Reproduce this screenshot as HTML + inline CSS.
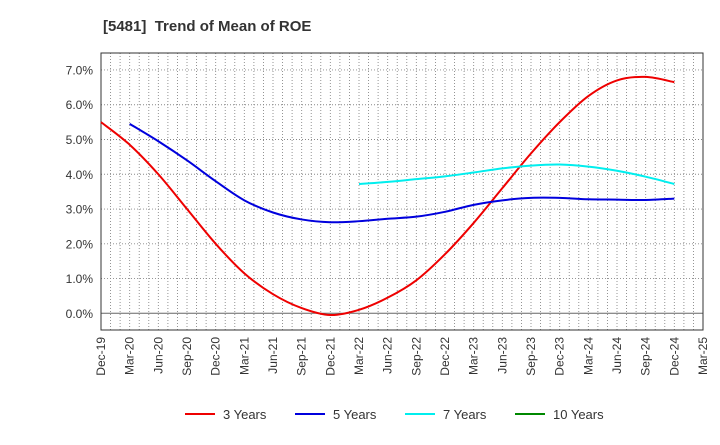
<!DOCTYPE html>
<html><head><meta charset="utf-8"><style>
body{margin:0;background:#fff;font-family:"Liberation Sans",sans-serif;}
svg text{font-family:"Liberation Sans",sans-serif;}
</style></head><body>
<svg id="c" width="720" height="440" xmlns="http://www.w3.org/2000/svg">
<text x="103" y="31" font-size="15" font-weight="bold" fill="#333" xml:space="preserve">[5481]  Trend of Mean of ROE</text>
<g id="grid"></g><g id="axes"></g><g id="series"></g><g id="legend"></g>
</svg>
<script>
const xLabels=["Dec-19","Mar-20","Jun-20","Sep-20","Dec-20","Mar-21","Jun-21","Sep-21","Dec-21","Mar-22","Jun-22","Sep-22","Dec-22","Mar-23","Jun-23","Sep-23","Dec-23","Mar-24","Jun-24","Sep-24","Dec-24","Mar-25"];
const yTicks=[0,1,2,3,4,5,6,7];
const s3=[5.5,4.85,4.0,3.0,2.0,1.15,0.55,0.15,-0.05,0.1,0.45,0.95,1.7,2.6,3.6,4.6,5.5,6.25,6.7,6.8,6.65];
const s5=[null,5.45,4.95,4.4,3.8,3.25,2.9,2.7,2.62,2.65,2.72,2.78,2.92,3.12,3.25,3.32,3.32,3.28,3.27,3.26,3.3];
const s7=[null,null,null,null,null,null,null,null,null,3.72,3.78,3.86,3.94,4.05,4.17,4.25,4.28,4.22,4.1,3.93,3.72];
const s10=[];
const L=101,R=703,T=53,B=330;
const X=i=>L+i*(R-L)/21;
const Y=v=>313.3-v*34.76;
const NS="http://www.w3.org/2000/svg";
function mk(p,t,a){const e=document.createElementNS(NS,t);for(const k in a)e.setAttribute(k,a[k]);p.appendChild(e);return e;}
const grid=document.getElementById('grid'),axes=document.getElementById('axes'),ser=document.getElementById('series'),leg=document.getElementById('legend');
for(let m=1;m<63;m++){const x=L+m*(R-L)/63;const l=mk(grid,'line',{x1:x,x2:x,y1:T,y2:B,stroke:'#888','stroke-width':0.9,'stroke-dasharray':'1,2'});

}
yTicks.forEach(v=>{const y=Y(v);const l=mk(grid,'line',{x1:L,x2:R,y1:y,y2:y,stroke:v===0?'#666':'#888','stroke-width':v===0?1:0.9,'stroke-dasharray':v===0?'':'1,2'});


const t=mk(axes,'text',{x:L-8,y:y+4.5,'text-anchor':'end','font-size':12,fill:'#333'});t.textContent=v.toFixed(1)+'%';

});
const fr=mk(axes,'rect',{x:L,y:T,width:R-L,height:B-T,fill:'none',stroke:'#333','stroke-width':1});


xLabels.forEach((s,i)=>{const x=X(i);const t=mk(axes,'text',{x:0,y:0,'text-anchor':'end','font-size':12,fill:'#333',transform:`translate(${x+4},${B+7}) rotate(-90)`});t.textContent=s;

});
function path(data){const p=[];data.forEach((v,i)=>{if(v!=null)p.push([X(i),Y(v)]);});if(!p.length)return '';
let d=`M${p[0][0]},${p[0][1]}`;for(let i=0;i<p.length-1;i++){const p0=p[i-1]||p[i],p1=p[i],p2=p[i+1],p3=p[i+2]||p2;
d+=` C${p1[0]+(p2[0]-p0[0])/6},${p1[1]+(p2[1]-p0[1])/6} ${p2[0]-(p3[0]-p1[0])/6},${p2[1]-(p3[1]-p1[1])/6} ${p2[0]},${p2[1]}`;}return d;}
const series=[[s3,'#ee0000','3 Years','line-3-years'],[s5,'#0000dd','5 Years','line-5-years'],[s7,'#00eeee','7 Years','line-7-years'],[s10,'#008800','10 Years','line-10-years']];
series.forEach(([d,c,n,id])=>{const pth=path(d);if(pth){const e=mk(ser,'path',{d:pth,fill:'none',stroke:c,'stroke-width':2});

}});
const lx=[185,295,405,515];
series.forEach(([d,c,n],k)=>{const g=mk(leg,'g',{});


mk(g,'line',{x1:lx[k],x2:lx[k]+30,y1:414,y2:414,stroke:c,'stroke-width':2});
const t=mk(g,'text',{x:lx[k]+38,y:419,'font-size':13,fill:'#333'});t.textContent=n;});
</script>
</body></html>
